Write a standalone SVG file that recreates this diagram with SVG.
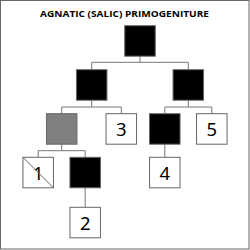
<svg xmlns="http://www.w3.org/2000/svg" width="250" height="250" viewBox="0 0 250 250">
<style>
.frame{fill:#fff;stroke:#666;stroke-width:1}
.b{stroke:#666;stroke-width:1}
.blk{fill:#000}
.wht{fill:#fff}
.gry{fill:#808080}
.conn{fill:none;stroke:#777;stroke-width:1}
.num{font-family:"Noto Sans","Open Sans","DejaVu Sans",sans-serif;font-size:18.5px;fill:#000;text-anchor:middle}
.title{font-family:"Open Sans","Noto Sans","DejaVu Sans",sans-serif;font-size:9px;font-weight:bold;fill:#000;text-anchor:middle}
</style>
<rect class="frame" x="0.5" y="0.5" width="248.5" height="248.5"/>
<text class="title" x="124.5" y="17.3" textLength="169" lengthAdjust="spacingAndGlyphs">AGNATIC (SALIC) PRIMOGENITURE</text>
<g id="connectors" class="conn">
<path d="M140 56.2V62.3M91.7 62.3H188.3M91.7 62.3V69.7M188.3 62.3V69.7"/>
<path d="M91.7 100.2V107M61.7 107H121.3M61.7 107V113.7M121.3 107V113.7"/>
<path d="M188.3 100.2V107M164.8 107H211.8M164.8 107V113.7M211.8 107V113.7"/>
<path d="M61.7 144.2V150.7M38.2 150.7H85.2M38.2 150.7V157.3M85.2 150.7V157.3"/>
<path d="M164.8 144.2V157.3"/>
<path d="M85.2 187.8V207.3"/>
</g>
<g id="root"><rect class="b blk" x="124.75" y="25.7" width="30.5" height="30.5"/></g>
<g id="a"><rect class="b blk" x="76.45" y="69.7" width="30.5" height="30.5"/></g>
<g id="b"><rect class="b blk" x="173.05" y="69.7" width="30.5" height="30.5"/></g>
<g id="c"><rect class="b gry" x="46.45" y="113.7" width="30.5" height="30.5"/></g>
<g id="n3"><rect class="b wht" x="106.05" y="113.7" width="30.5" height="30.5"/><text class="num" x="121.3" y="136.3">3</text></g>
<g id="d"><rect class="b blk" x="149.55" y="113.7" width="30.5" height="30.5"/></g>
<g id="n5"><rect class="b wht" x="196.55" y="113.7" width="30.5" height="30.5"/><text class="num" x="211.8" y="136.3">5</text></g>
<g id="n1"><rect class="b wht" x="22.95" y="157.3" width="30.5" height="30.5"/><text class="num" x="38.2" y="179.9">1</text><line class="b" x1="22.95" y1="157.3" x2="53.45" y2="187.8"/></g>
<g id="e"><rect class="b blk" x="69.95" y="157.3" width="30.5" height="30.5"/></g>
<g id="n4"><rect class="b wht" x="149.55" y="157.3" width="30.5" height="30.5"/><text class="num" x="164.8" y="179.9">4</text></g>
<g id="n2"><rect class="b wht" x="69.95" y="207.3" width="30.5" height="30.5"/><text class="num" x="85.2" y="229.9">2</text></g>
</svg>
